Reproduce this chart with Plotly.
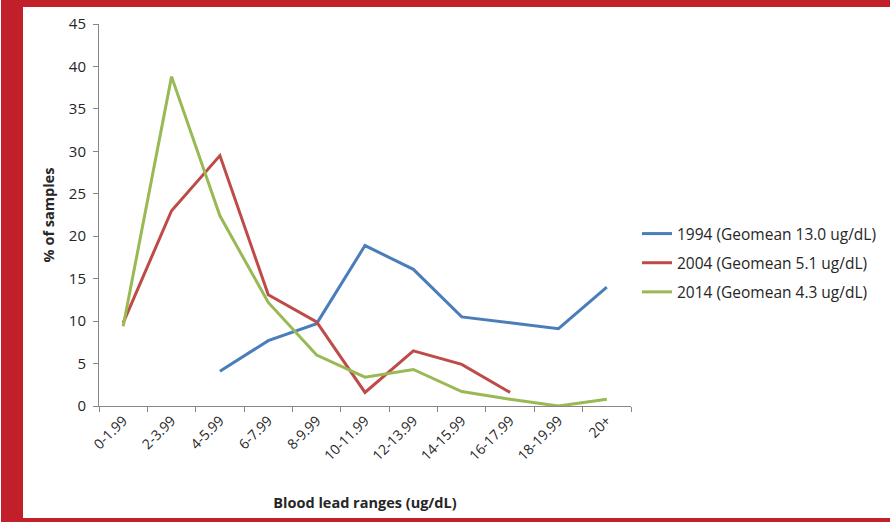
import plotly.graph_objects as go

categories = ["0-1.99", "2-3.99", "4-5.99", "6-7.99", "8-9.99", "10-11.99",
              "12-13.99", "14-15.99", "16-17.99", "18-19.99", "20+"]
s1994 = [None, None, 4.1, 7.7, 9.7, 18.9, 16.1, 10.5, 9.8, 9.1, 14.0]
s2004 = [9.8, 23.0, 29.5, 13.1, 9.9, 1.6, 6.5, 4.9, 1.6, None, None]
s2014 = [9.4, 38.8, 22.4, 12.2, 6.0, 3.4, 4.3, 1.7, 0.8, 0.0, 0.8]
names = ["1994 (Geomean 13.0 ug/dL)", "2004 (Geomean 5.1 ug/dL)", "2014 (Geomean 4.3 ug/dL)"]
colors = ["#4A7EBB", "#BE4B48", "#98B954"]
y_ticks = [0, 5, 10, 15, 20, 25, 30, 35, 40, 45]

FONT = "Open Sans"
TXT = "#262626"
fig = go.Figure()
for i, (vals, nm, col) in enumerate(zip([s1994, s2004, s2014], names, colors)):
    fig.add_trace(go.Scatter(x=categories, y=vals, mode="lines", name=nm,
                             line=dict(color=col, width=3), legendgroup=str(i),
                             connectgaps=False))

W, H = 890, 522
L, R, T, B = 99, 631, 24, 406
def px(x):
    return (x - L) / (R - L)
def py(y):
    return (B - y) / (B - T)

red = "#C1202A"
shapes = [
    dict(type="rect", xref="paper", yref="paper", x0=px(1), x1=px(23), y0=py(0), y1=py(522), fillcolor=red, line=dict(width=0)),
    dict(type="rect", xref="paper", yref="paper", x0=px(1), x1=px(890), y0=py(7), y1=py(0), fillcolor=red, line=dict(width=0)),
    dict(type="rect", xref="paper", yref="paper", x0=px(1), x1=px(890), y0=py(522), y1=py(518), fillcolor=red, line=dict(width=0)),
]

fig.update_layout(
    width=W, height=H,
    margin=dict(l=L, r=W - R, t=T, b=H - B, pad=0, autoexpand=False),
    paper_bgcolor="white", plot_bgcolor="white",
    font=dict(family=FONT, size=14, color=TXT),
    shapes=shapes,
    showlegend=True,
    legend=dict(x=px(637), y=py(263), xanchor="left", yanchor="middle",
                tracegroupgap=6, font=dict(size=15.5, color=TXT),
                bgcolor="rgba(0,0,0,0)"),
    xaxis=dict(type="category", categoryorder="array", categoryarray=categories,
               range=[-0.5, 10.5], showline=True, linecolor="#868686", linewidth=1,
               ticks="outside", ticklen=5, tickcolor="#868686", tickson="boundaries",
               tickangle=-45, showgrid=False, zeroline=False, automargin=False,
               tickfont=dict(size=14, color=TXT),
               title=dict(text="<b>Blood lead ranges (ug/dL)</b>", font=dict(size=14.5, color=TXT), standoff=34)),
    yaxis=dict(range=[0, 45], tickvals=y_ticks, showline=True, linecolor="#868686", linewidth=1,
               ticks="outside", ticklen=5, tickcolor="#868686", showgrid=False, zeroline=False,
               ticklabelstandoff=4, automargin=False,
               tickfont=dict(size=15, color=TXT),
               title=dict(text="<b>% of samples</b>", font=dict(size=14.5, color=TXT), standoff=10)),
)

fig.write_html("out.html", config={"displayModeBar": False},
               post_script="document.documentElement.style.overflow='hidden';document.body.style.overflow='hidden';document.body.style.margin='0';document.body.style.padding='0';")
